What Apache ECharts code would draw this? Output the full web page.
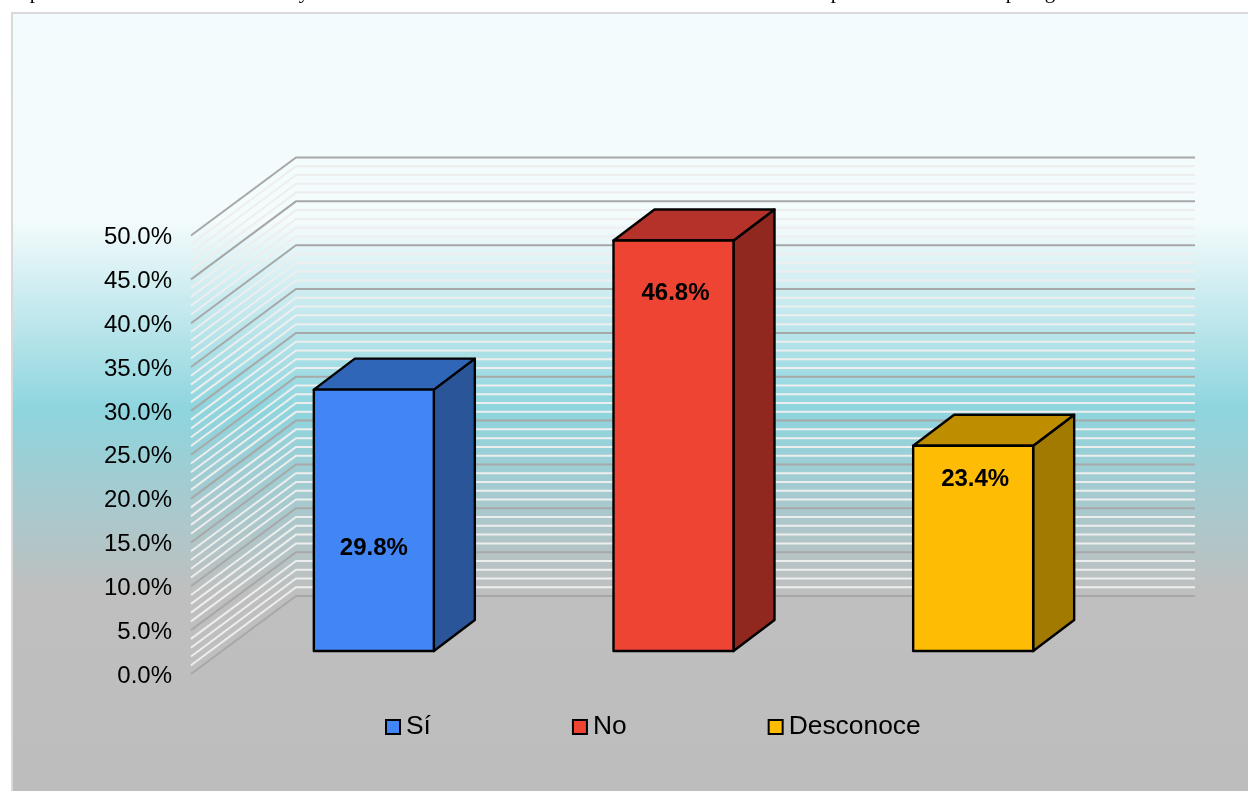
<!DOCTYPE html>
<html>
<head>
<meta charset="utf-8">
<style>html,body{margin:0;padding:0;background:#fff;overflow:hidden}#c{width:1248px;height:791px}</style>
<script src="https://cdn.jsdelivr.net/npm/echarts@6/dist/echarts.min.js"></script>
</head>
<body>
<div id="c"></div>
<script>
const categories = ['Sí', 'No', 'Desconoce'];
const values = [29.8, 46.8, 23.4];
const majorTicks = [0, 5, 10, 15, 20, 25, 30, 35, 40, 45, 50];
const minorTicks = [1,2,3,4,6,7,8,9,11,12,13,14,16,17,18,19,21,22,23,24,26,27,28,29,31,32,33,34,36,37,38,39,41,42,43,44,46,47,48,49];
const clippedHeaderGlyphs = ['p', 'y', 'p', 'p', 'g'];

// style constants
const FRONT = ['#4285f4', '#ee4433', '#ffbc05'];
const SIDE = ['#2a5599', '#912820', '#a27a00'];
const TOP = ['#3066b8', '#b5322a', '#bf8e00'];
const WALL_DX = 105, WALL_DY = 78;      // oblique depth of the walls
const BAR_SHIFT_X = 33, BAR_SHIFT_Y = 23; // bars stand in the middle of the floor
const BAR_DX = 41, BAR_DY = 31, BAR_W = 120;
const LABEL_DROP = [159, 53, 34];       // label distance below the bar's top edge
const LABEL_NUDGE = [0, 2, 2];
const HEADER_X = [35, 304, 836, 1011, 1050];
const FONT = '"Liberation Sans", Arial, sans-serif';

const chart = echarts.init(document.getElementById('c'), null, {renderer: 'canvas'});

function wallLine(color, width) {
  return function (params, api) {
    const cs = params.coordSys;
    const y = api.coord([0, api.value(1)])[1];
    return {
      type: 'polyline',
      shape: {points: [[cs.x, y], [cs.x + WALL_DX, y - WALL_DY], [cs.x + cs.width + WALL_DX, y - WALL_DY]]},
      style: {fill: null, stroke: color, lineWidth: width}
    };
  };
}

function barItem(i) {
  return function (params, api) {
    const base = api.coord([api.value(0), 0]);
    const top = api.coord([api.value(0), api.value(1)]);
    const l = base[0] + BAR_SHIFT_X - BAR_W / 2, r = l + BAR_W;
    const b = base[1] - BAR_SHIFT_Y, t = top[1] - BAR_SHIFT_Y;
    const edge = {stroke: '#000', lineWidth: 2.4, lineJoin: 'round'};
    return {
      type: 'group',
      children: [
        {type: 'polygon', shape: {points: [[r, t], [r + BAR_DX, t - BAR_DY], [r + BAR_DX, b - BAR_DY], [r, b]]},
          style: Object.assign({fill: SIDE[i]}, edge)},
        {type: 'polygon', shape: {points: [[l, t], [l + BAR_DX, t - BAR_DY], [r + BAR_DX, t - BAR_DY], [r, t]]},
          style: Object.assign({fill: TOP[i]}, edge)},
        {type: 'rect', shape: {x: l, y: t, width: BAR_W, height: b - t},
          style: Object.assign({fill: FRONT[i]}, edge)},
        {type: 'text', style: {text: values[i].toFixed(1) + '%', x: (l + r) / 2 + LABEL_NUDGE[i], y: t + LABEL_DROP[i],
          align: 'center', verticalAlign: 'middle', fill: '#000', font: 'bold 24px ' + FONT}}
      ]
    };
  };
}

chart.setOption({
  animation: false,
  graphic: [
    {type: 'rect', z: -10, silent: true,
      shape: {x: 12, y: 13, width: 1240, height: 782},
      style: {
        stroke: '#d9d9d9', lineWidth: 2,
        fill: new echarts.graphic.LinearGradient(0, 0, 0, 1, [
          {offset: 0, color: '#f2fbfd'},
          {offset: 0.265, color: '#f4fbfc'},
          {offset: 0.507, color: '#8ed5de'},
          {offset: 0.74, color: '#bfbfbf'},
          {offset: 1, color: '#bdbdbd'}
        ])
      }}
  ].concat(clippedHeaderGlyphs.map((g, i) => ({
    type: 'text', z: -9, silent: true,
    style: {text: g, x: HEADER_X[i], y: 3, align: 'center', verticalAlign: 'bottom',
      fill: '#000', font: '21px "Liberation Serif", "Times New Roman", serif'}
  }))),
  legend: {
    left: 385, top: 714, padding: 0, itemWidth: 14, itemHeight: 14, itemGap: 141, icon: 'rect',
    selectedMode: false,
    data: categories.map((name, i) => ({name, itemStyle: {color: FRONT[i], borderColor: '#000', borderWidth: 2}})),
    textStyle: {color: '#000', fontSize: 26.4, fontFamily: FONT, padding: [0, 0, 0, 1]}
  },
  grid: {left: 191, top: 235.5, width: 899, height: 438.5, containLabel: false},
  xAxis: {type: 'category', data: categories, axisLine: {show: false}, axisTick: {show: false}, axisLabel: {show: false}, splitLine: {show: false}},
  yAxis: {
    type: 'value', min: 0, max: 50, interval: 5,
    axisLine: {show: false}, axisTick: {show: false}, splitLine: {show: false},
    axisLabel: {
      margin: 19, formatter: v => '{v|' + v.toFixed(1) + '%}',
      rich: {v: {color: '#000', fontSize: 24, fontFamily: FONT, padding: [4, 0, 0, 0]}}
    }
  },
  series: [
    {type: 'custom', name: 'minor', silent: true, z: 1, coordinateSystem: 'cartesian2d', encode: {x: 0, y: 1},
      data: minorTicks.map(v => [0, v]), renderItem: wallLine('#eeeeee', 2)},
    {type: 'custom', name: 'major', silent: true, z: 2, coordinateSystem: 'cartesian2d', encode: {x: 0, y: 1},
      data: majorTicks.map(v => [0, v]), renderItem: wallLine('#a8a8a8', 2)}
  ].concat(categories.map((name, i) => ({
    type: 'custom', name, silent: true, z: 5, coordinateSystem: 'cartesian2d', encode: {x: 0, y: 1},
    itemStyle: {color: FRONT[i]},
    data: [[i, values[i]]], renderItem: barItem(i)
  })))
});
</script>
</body>
</html>
